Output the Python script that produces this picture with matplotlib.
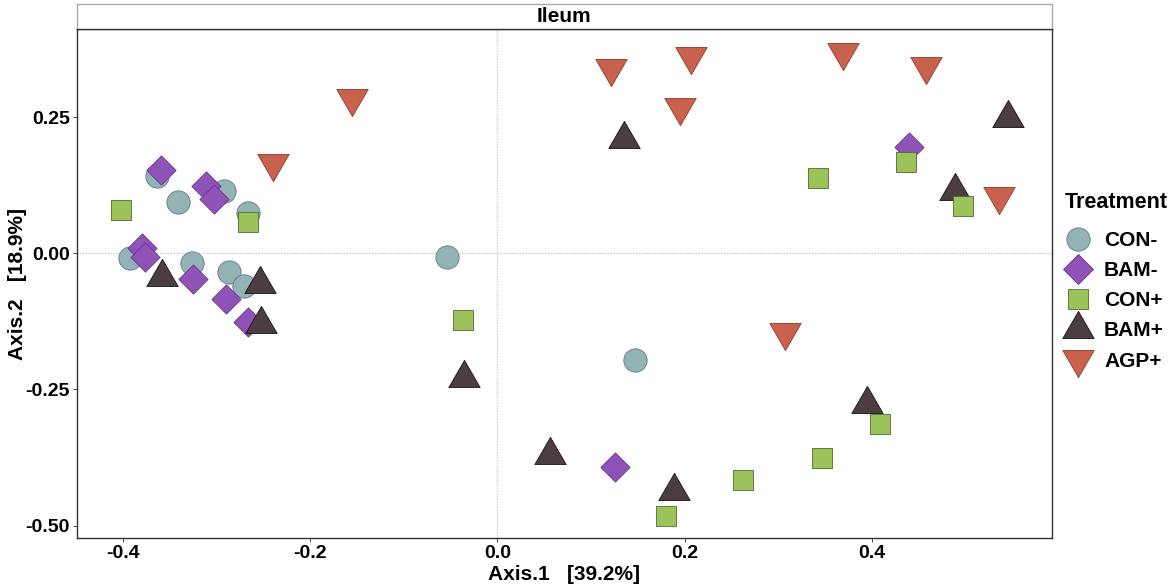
import matplotlib
matplotlib.use("Agg")
import matplotlib.pyplot as plt
import numpy as np
from matplotlib.path import Path
from matplotlib.lines import Line2D

plt.rcParams["font.family"] = ["Liberation Sans", "DejaVu Sans"]
plt.rcParams["font.weight"] = "bold"

# PCoA coordinates per treatment group (Axis.1, Axis.2)
con_minus_x = [-0.363, -0.341, -0.292, -0.266, -0.392, -0.326, -0.286, -0.271, -0.054, 0.147]
con_minus_y = [0.142, 0.094, 0.115, 0.075, -0.008, -0.018, -0.034, -0.060, -0.007, -0.196]

bam_minus_x = [-0.359, -0.311, -0.302, -0.379, -0.376, -0.325, -0.290, -0.266, 0.439, 0.126]
bam_minus_y = [0.154, 0.124, 0.100, 0.009, -0.006, -0.047, -0.083, -0.126, 0.196, -0.393]

con_plus_x = [-0.402, -0.266, -0.037, 0.342, 0.436, 0.497, 0.180, 0.262, 0.347, 0.408]
con_plus_y = [0.079, 0.058, -0.123, 0.138, 0.167, 0.087, -0.483, -0.417, -0.376, -0.313]

bam_plus_x = [-0.358, -0.253, -0.252, 0.135, 0.545, 0.489, 0.056, 0.189, 0.395, -0.036]
bam_plus_y = [-0.043, -0.056, -0.129, 0.210, 0.248, 0.114, -0.370, -0.437, -0.276, -0.229]

agp_plus_x = [-0.239, -0.155, 0.121, 0.207, 0.195, 0.369, 0.458, 0.536, 0.307]
agp_plus_y = [0.166, 0.285, 0.340, 0.363, 0.268, 0.370, 0.345, 0.106, -0.144]

labels = ["CON-", "BAM-", "CON+", "BAM+", "AGP+"]

# R-style triangles, centred on the centroid
tri_up = Path([(0, 1.555), (1.347, -0.778), (-1.347, -0.778), (0, 1.555)],
              [Path.MOVETO, Path.LINETO, Path.LINETO, Path.CLOSEPOLY])
tri_down = Path([(0, -1.555), (1.347, 0.778), (-1.347, 0.778), (0, -1.555)],
                [Path.MOVETO, Path.LINETO, Path.LINETO, Path.CLOSEPOLY])

r = 8.39  # marker radius in points
styles = {
    "CON-": dict(marker="o", ms=2 * r, fc="#94B3B6", ec="#5E7A7D"),
    "BAM-": dict(marker="D", ms=1.772 * r, fc="#8F52B6", ec="#6B338F"),
    "CON+": dict(marker="s", ms=1.772 * r, fc="#9BC35A", ec="#4F6B2C"),
    "BAM+": dict(marker=tri_up, ms=3.11 * r, fc="#4B3D40", ec="#1A1416"),
    "AGP+": dict(marker=tri_down, ms=3.11 * r, fc="#C8624C", ec="#8E3B2B"),
}
data = {
    "CON-": (con_minus_x, con_minus_y),
    "BAM-": (bam_minus_x, bam_minus_y),
    "CON+": (con_plus_x, con_plus_y),
    "BAM+": (bam_plus_x, bam_plus_y),
    "AGP+": (agp_plus_x, agp_plus_y),
}

fig = plt.figure(figsize=(11.7, 5.88), dpi=100)
ax = fig.add_axes([0.0656, 0.085, 0.8335, 0.8655])

ax.axvline(0, color="#C4C4C4", lw=0.9, ls=(0, (1, 1.2)), zorder=1)
ax.axhline(0, color="#C4C4C4", lw=0.9, ls=(0, (1, 1.2)), zorder=1)

draw_order = ["CON-", "BAM-", "BAM+", "CON+", "AGP+"]
for z, key in enumerate(draw_order):
    st = styles[key]
    xs, ys = data[key]
    ax.scatter(xs, ys, marker=st["marker"], s=st["ms"] ** 2, facecolor=st["fc"],
               edgecolor=st["ec"], linewidth=0.6, zorder=3 + z)

ax.set_xlim(-0.449, 0.592)
ax.set_ylim(-0.523, 0.412)
ax.set_xticks([-0.4, -0.2, 0.0, 0.2, 0.4])
ax.set_xticklabels(["-0.4", "-0.2", "0.0", "0.2", "0.4"])
ax.set_yticks([0.25, 0.0, -0.25, -0.5])
ax.set_yticklabels(["0.25", "0.00", "-0.25", "-0.50"])
ax.tick_params(axis="both", labelsize=14, length=3, width=0.6, color="#333333",
               pad=2, labelcolor="black")
for lab in ax.get_xticklabels() + ax.get_yticklabels():
    lab.set_fontweight("bold")
for sp in ax.spines.values():
    sp.set_color("#333333")
    sp.set_linewidth(1.0)

ax.set_xlabel("Axis.1   [39.2%]", fontsize=15, fontweight="bold", labelpad=2)
ax.set_ylabel("Axis.2   [18.9%]", fontsize=15, fontweight="bold", labelpad=-1)

# facet strip
strip = fig.add_axes([0.0656, 0.9507, 0.8335, 0.0425])
strip.set_xticks([])
strip.set_yticks([])
strip.set_facecolor("white")
for sp in strip.spines.values():
    sp.set_color("#AAAAAA")
    sp.set_linewidth(1.0)
strip.spines["bottom"].set_color("#333333")
strip.text(0.5, 0.5, "Ileum", ha="center", va="center", fontsize=15,
           fontweight="bold", transform=strip.transAxes)

# legend
fig.text(1065 / 1170, 1 - 203 / 588, "Treatment", ha="left", va="center",
         fontsize=15.5, fontweight="bold")
handles = []
for key in labels:
    st = styles[key]
    handles.append(Line2D([], [], ls="none", marker=st["marker"], ms=st["ms"],
                          markerfacecolor=st["fc"], markeredgecolor=st["ec"],
                          markeredgewidth=0.6, label=key))
leg = fig.legend(handles=handles, loc="upper left",
                 bbox_to_anchor=(0.9032, 0.6207), frameon=False, fontsize=15,
                 labelspacing=0.53, handletextpad=0.62, handlelength=1.25,
                 borderpad=0.4, borderaxespad=0)
for t in leg.get_texts():
    t.set_fontweight("bold")

fig.savefig("out.png", dpi=100)
